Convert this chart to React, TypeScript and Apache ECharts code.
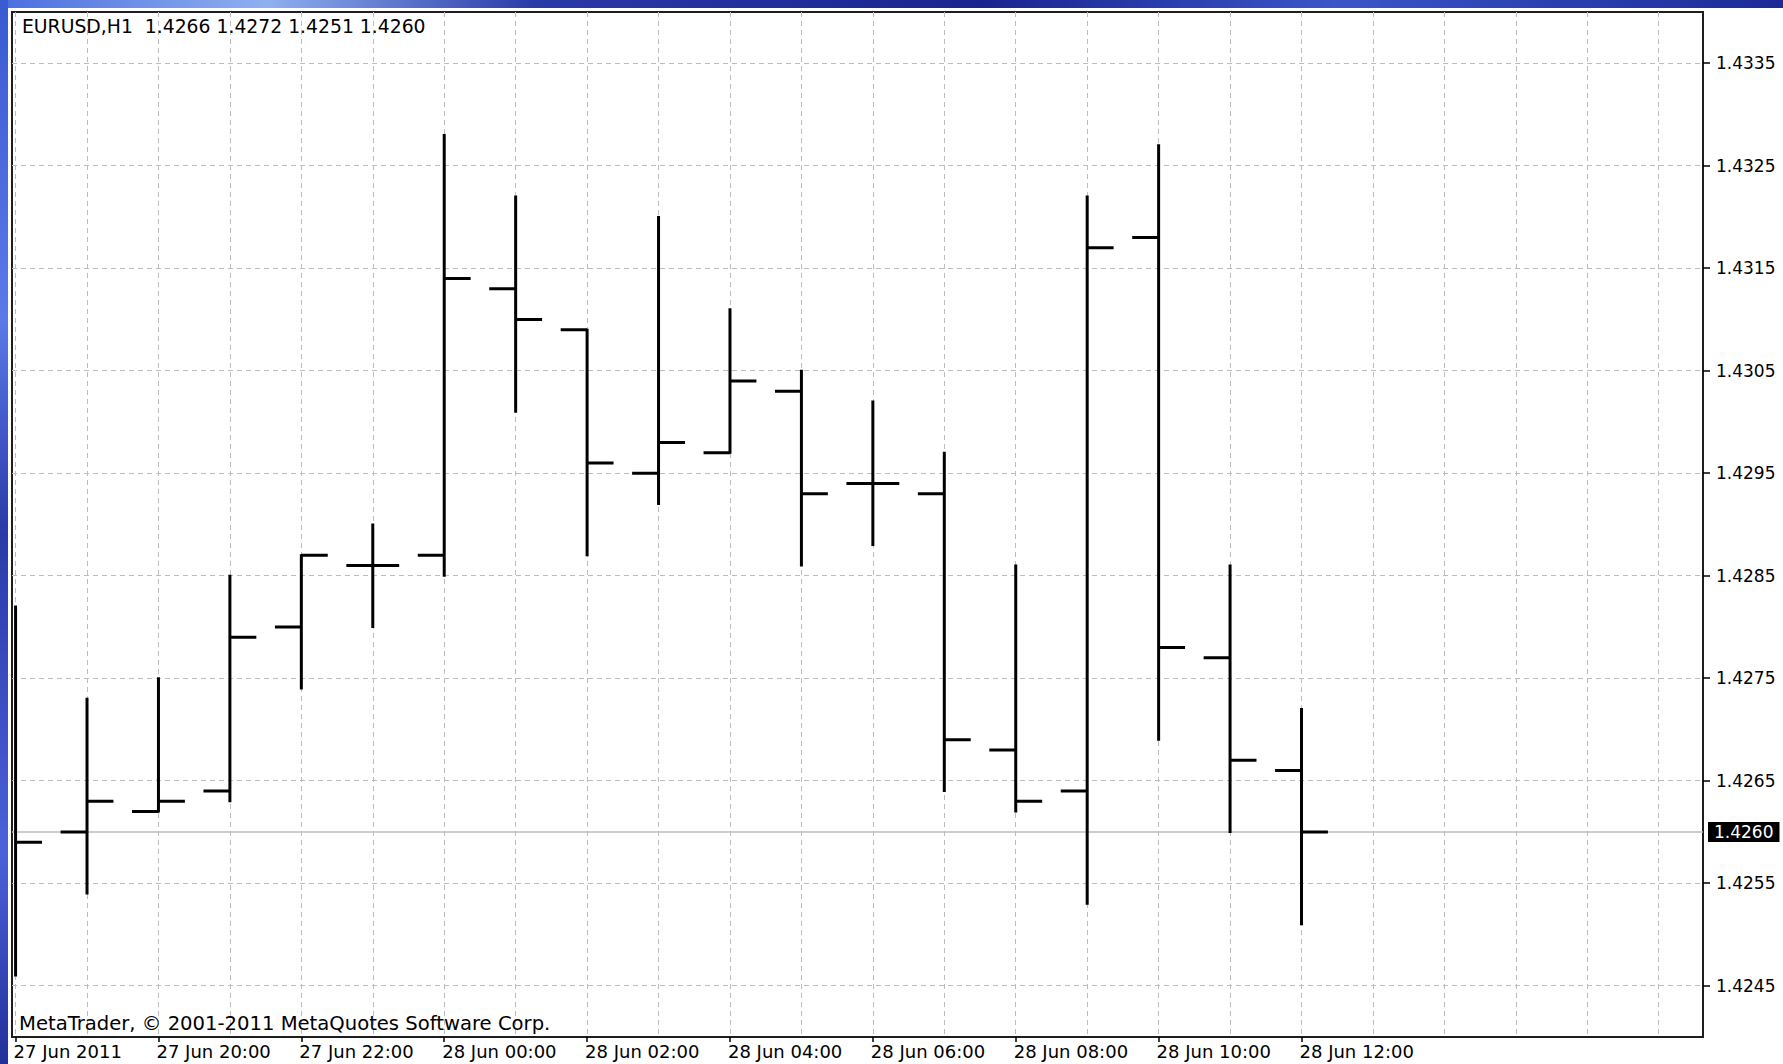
import React, { useEffect, useRef } from "react";
import * as echarts from "echarts";

// ---- data (EURUSD, H1) ----
const timeLabels = [
  "27 Jun 2011", "27 Jun 19:00", "27 Jun 20:00", "27 Jun 21:00", "27 Jun 22:00",
  "27 Jun 23:00", "28 Jun 00:00", "28 Jun 01:00", "28 Jun 02:00", "28 Jun 03:00",
  "28 Jun 04:00", "28 Jun 05:00", "28 Jun 06:00", "28 Jun 07:00", "28 Jun 08:00",
  "28 Jun 09:00", "28 Jun 10:00", "28 Jun 11:00", "28 Jun 12:00",
];
const opens = [1.4270, 1.4260, 1.4262, 1.4264, 1.4280, 1.4286, 1.4287, 1.4313, 1.4309, 1.4295, 1.4297, 1.4303, 1.4294, 1.4293, 1.4268, 1.4264, 1.4318, 1.4277, 1.4266];
const highs = [1.4282, 1.4273, 1.4275, 1.4285, 1.4287, 1.4290, 1.4328, 1.4322, 1.4309, 1.4320, 1.4311, 1.4305, 1.4302, 1.4297, 1.4286, 1.4322, 1.4327, 1.4286, 1.4272];
const lows = [1.4246, 1.4254, 1.4262, 1.4263, 1.4274, 1.4280, 1.4285, 1.4301, 1.4287, 1.4292, 1.4297, 1.4286, 1.4288, 1.4264, 1.4262, 1.4253, 1.4269, 1.4260, 1.4251];
const closes = [1.4259, 1.4263, 1.4263, 1.4279, 1.4287, 1.4286, 1.4314, 1.4310, 1.4296, 1.4298, 1.4304, 1.4293, 1.4294, 1.4269, 1.4263, 1.4317, 1.4278, 1.4267, 1.4260];

const yTicks = [1.4245, 1.4255, 1.4265, 1.4275, 1.4285, 1.4295, 1.4305, 1.4315, 1.4325, 1.4335];
const labelBars = [0, 2, 4, 6, 8, 10, 12, 14, 16, 18];
const gridBars = [0, 1, 2, 3, 4, 5, 6, 7, 8, 9, 10, 11, 12, 13, 14, 15, 16, 17, 18, 19, 20, 21, 22, 23];
const currentPrice = 1.4260;
const titleText = "EURUSD,H1  1.4266 1.4272 1.4251 1.4260";
const copyrightText = "MetaTrader, \u00A9 2001-2011 MetaQuotes Software Corp.";

const X_MIN = -0.05;
const X_MAX = 23.62;
const Y_MIN = 1.424;
const Y_MAX = 1.434;

const FONT = "DejaVu Sans";

export default function App() {
  const ref = useRef<HTMLDivElement>(null);

  useEffect(() => {
    if (!ref.current) return;
    const chart = echarts.init(ref.current, null, { renderer: "svg" });

    const ohlc = opens.map((o, i) => [i, o, highs[i], lows[i], closes[i]]);

    const renderItem = (params: any, api: any) => {
      const i = api.value(0);
      const o = api.value(1);
      const h = api.value(2);
      const l = api.value(3);
      const c = api.value(4);
      const pH = api.coord([i, h]);
      const pL = api.coord([i, l]);
      const pO = api.coord([i, o]);
      const pC = api.coord([i, c]);
      const tick = api.size([1, 0])[0] * 0.37;
      const cs = params.coordSys;
      const style = { stroke: "#000000", lineWidth: 3 };
      const children: any[] = [
        { type: "line", shape: { x1: pH[0], y1: pH[1] - 1, x2: pL[0], y2: pL[1] + 1 }, style },
        { type: "line", shape: { x1: pC[0], y1: pC[1], x2: pC[0] + tick, y2: pC[1] }, style },
      ];
      if (pO[0] - tick >= cs.x) {
        children.push({
          type: "line",
          shape: { x1: pO[0] - tick, y1: pO[1], x2: pO[0], y2: pO[1] },
          style,
        });
      }
      return { type: "group", children };
    };

    const gridLine = { color: "#bdbdbd", type: [5, 4], width: 1 };

    const option: any = {
      animation: false,
      backgroundColor: "#ffffff",
      textStyle: { fontFamily: FONT },
      grid: {
        left: 12,
        top: 12,
        right: 80,
        bottom: 27,
        show: true,
        borderColor: "#1e1e1e",
        borderWidth: 2,
        backgroundColor: "#ffffff",
      },
      xAxis: [
        {
          type: "value",
          min: X_MIN,
          max: X_MAX,
          position: "bottom",
          axisLine: { show: true, onZero: false, lineStyle: { color: "#1e1e1e", width: 2 } },
          axisTick: {
            show: true,
            length: 5,
            customValues: labelBars,
            lineStyle: { color: "#000", width: 1.5 },
          },
          axisLabel: {
            show: true,
            customValues: labelBars,
            formatter: (v: number) => timeLabels[Math.round(v)] ?? "",
            align: "left",
            margin: 5,
            fontSize: 18,
            color: "#000",
            fontFamily: FONT,
            padding: [0, 0, 0, -2],
          },
          splitLine: { show: false },
        },
        {
          type: "value",
          min: X_MIN,
          max: X_MAX,
          position: "top",
          axisLine: { show: false },
          axisTick: { show: false, customValues: gridBars },
          axisLabel: { show: false },
          splitLine: { show: true, lineStyle: gridLine },
        },
      ],
      yAxis: {
        type: "value",
        position: "right",
        min: Y_MIN,
        max: Y_MAX,
        axisLine: { show: true, onZero: false, lineStyle: { color: "#1e1e1e", width: 2 } },
        axisTick: {
          show: true,
          length: 7,
          customValues: yTicks,
          lineStyle: { color: "#000", width: 1.5 },
        },
        axisLabel: {
          show: true,
          customValues: yTicks,
          formatter: (v: number) => v.toFixed(4),
          margin: 13,
          fontSize: 17,
          color: "#000",
          fontFamily: FONT,
        },
        splitLine: { show: true, lineStyle: gridLine },
      },
      graphic: [
        {
          type: "rect",
          shape: { x: 0, y: 0, width: 1783, height: 8 },
          style: {
            fill: new echarts.graphic.LinearGradient(0, 0, 1, 0, [
              { offset: 0, color: "#4a6ee0" },
              { offset: 0.15, color: "#8fb0f0" },
              { offset: 0.3, color: "#2a3aa8" },
              { offset: 0.55, color: "#1a2490" },
              { offset: 0.75, color: "#3a56c8" },
              { offset: 1, color: "#1c2a98" },
            ]),
          },
          silent: true,
        },
        {
          type: "rect",
          shape: { x: 0, y: 0, width: 8, height: 1064 },
          style: {
            fill: new echarts.graphic.LinearGradient(0, 0, 0, 1, [
              { offset: 0, color: "#3a5ad0" },
              { offset: 0.3, color: "#5a7ae8" },
              { offset: 0.5, color: "#2a3aa8" },
              { offset: 0.8, color: "#4a62d8" },
              { offset: 1, color: "#22309a" },
            ]),
          },
          silent: true,
        },
        {
          type: "text",
          x: 22,
          y: 26,
          style: {
            text: titleText,
            fontFamily: FONT,
            fontSize: 18.8,
            fill: "#000",
            verticalAlign: "middle",
            align: "left",
          },
          z: 10,
          silent: true,
        },
        {
          type: "text",
          x: 19,
          y: 1023,
          style: {
            text: copyrightText,
            fontFamily: FONT,
            fontSize: 19.6,
            fill: "#000",
            verticalAlign: "middle",
            align: "left",
          },
          z: 10,
          silent: true,
        },
      ],
      series: [
        {
          type: "line",
          name: "price",
          data: [
            [X_MIN, currentPrice],
            [X_MAX, currentPrice],
          ],
          symbol: "none",
          silent: true,
          z: 2,
          xAxisIndex: 0,
          yAxisIndex: 0,
          lineStyle: { color: "#bcbcbc", type: "solid", width: 1.5 },
          emphasis: { disabled: true },
          endLabel: {
            show: true,
            distance: 5,
            formatter: () => currentPrice.toFixed(4),
            color: "#ffffff",
            backgroundColor: "#000000",
            padding: [2, 6, 1, 6],
            fontSize: 17,
            fontFamily: FONT,
          },
        },
        {
          type: "custom",
          name: "EURUSD",
          z: 3,
          xAxisIndex: 0,
          yAxisIndex: 0,
          renderItem,
          encode: { x: 0, y: [1, 2, 3, 4] },
          data: ohlc,
          silent: true,
        },
      ],
    };

    chart.setOption(option);
    return () => chart.dispose();
  }, []);

  return (
    <div
      ref={ref}
      style={{ position: "fixed", left: 0, top: 0, width: 1783, height: 1064 }}
    />
  );
}
